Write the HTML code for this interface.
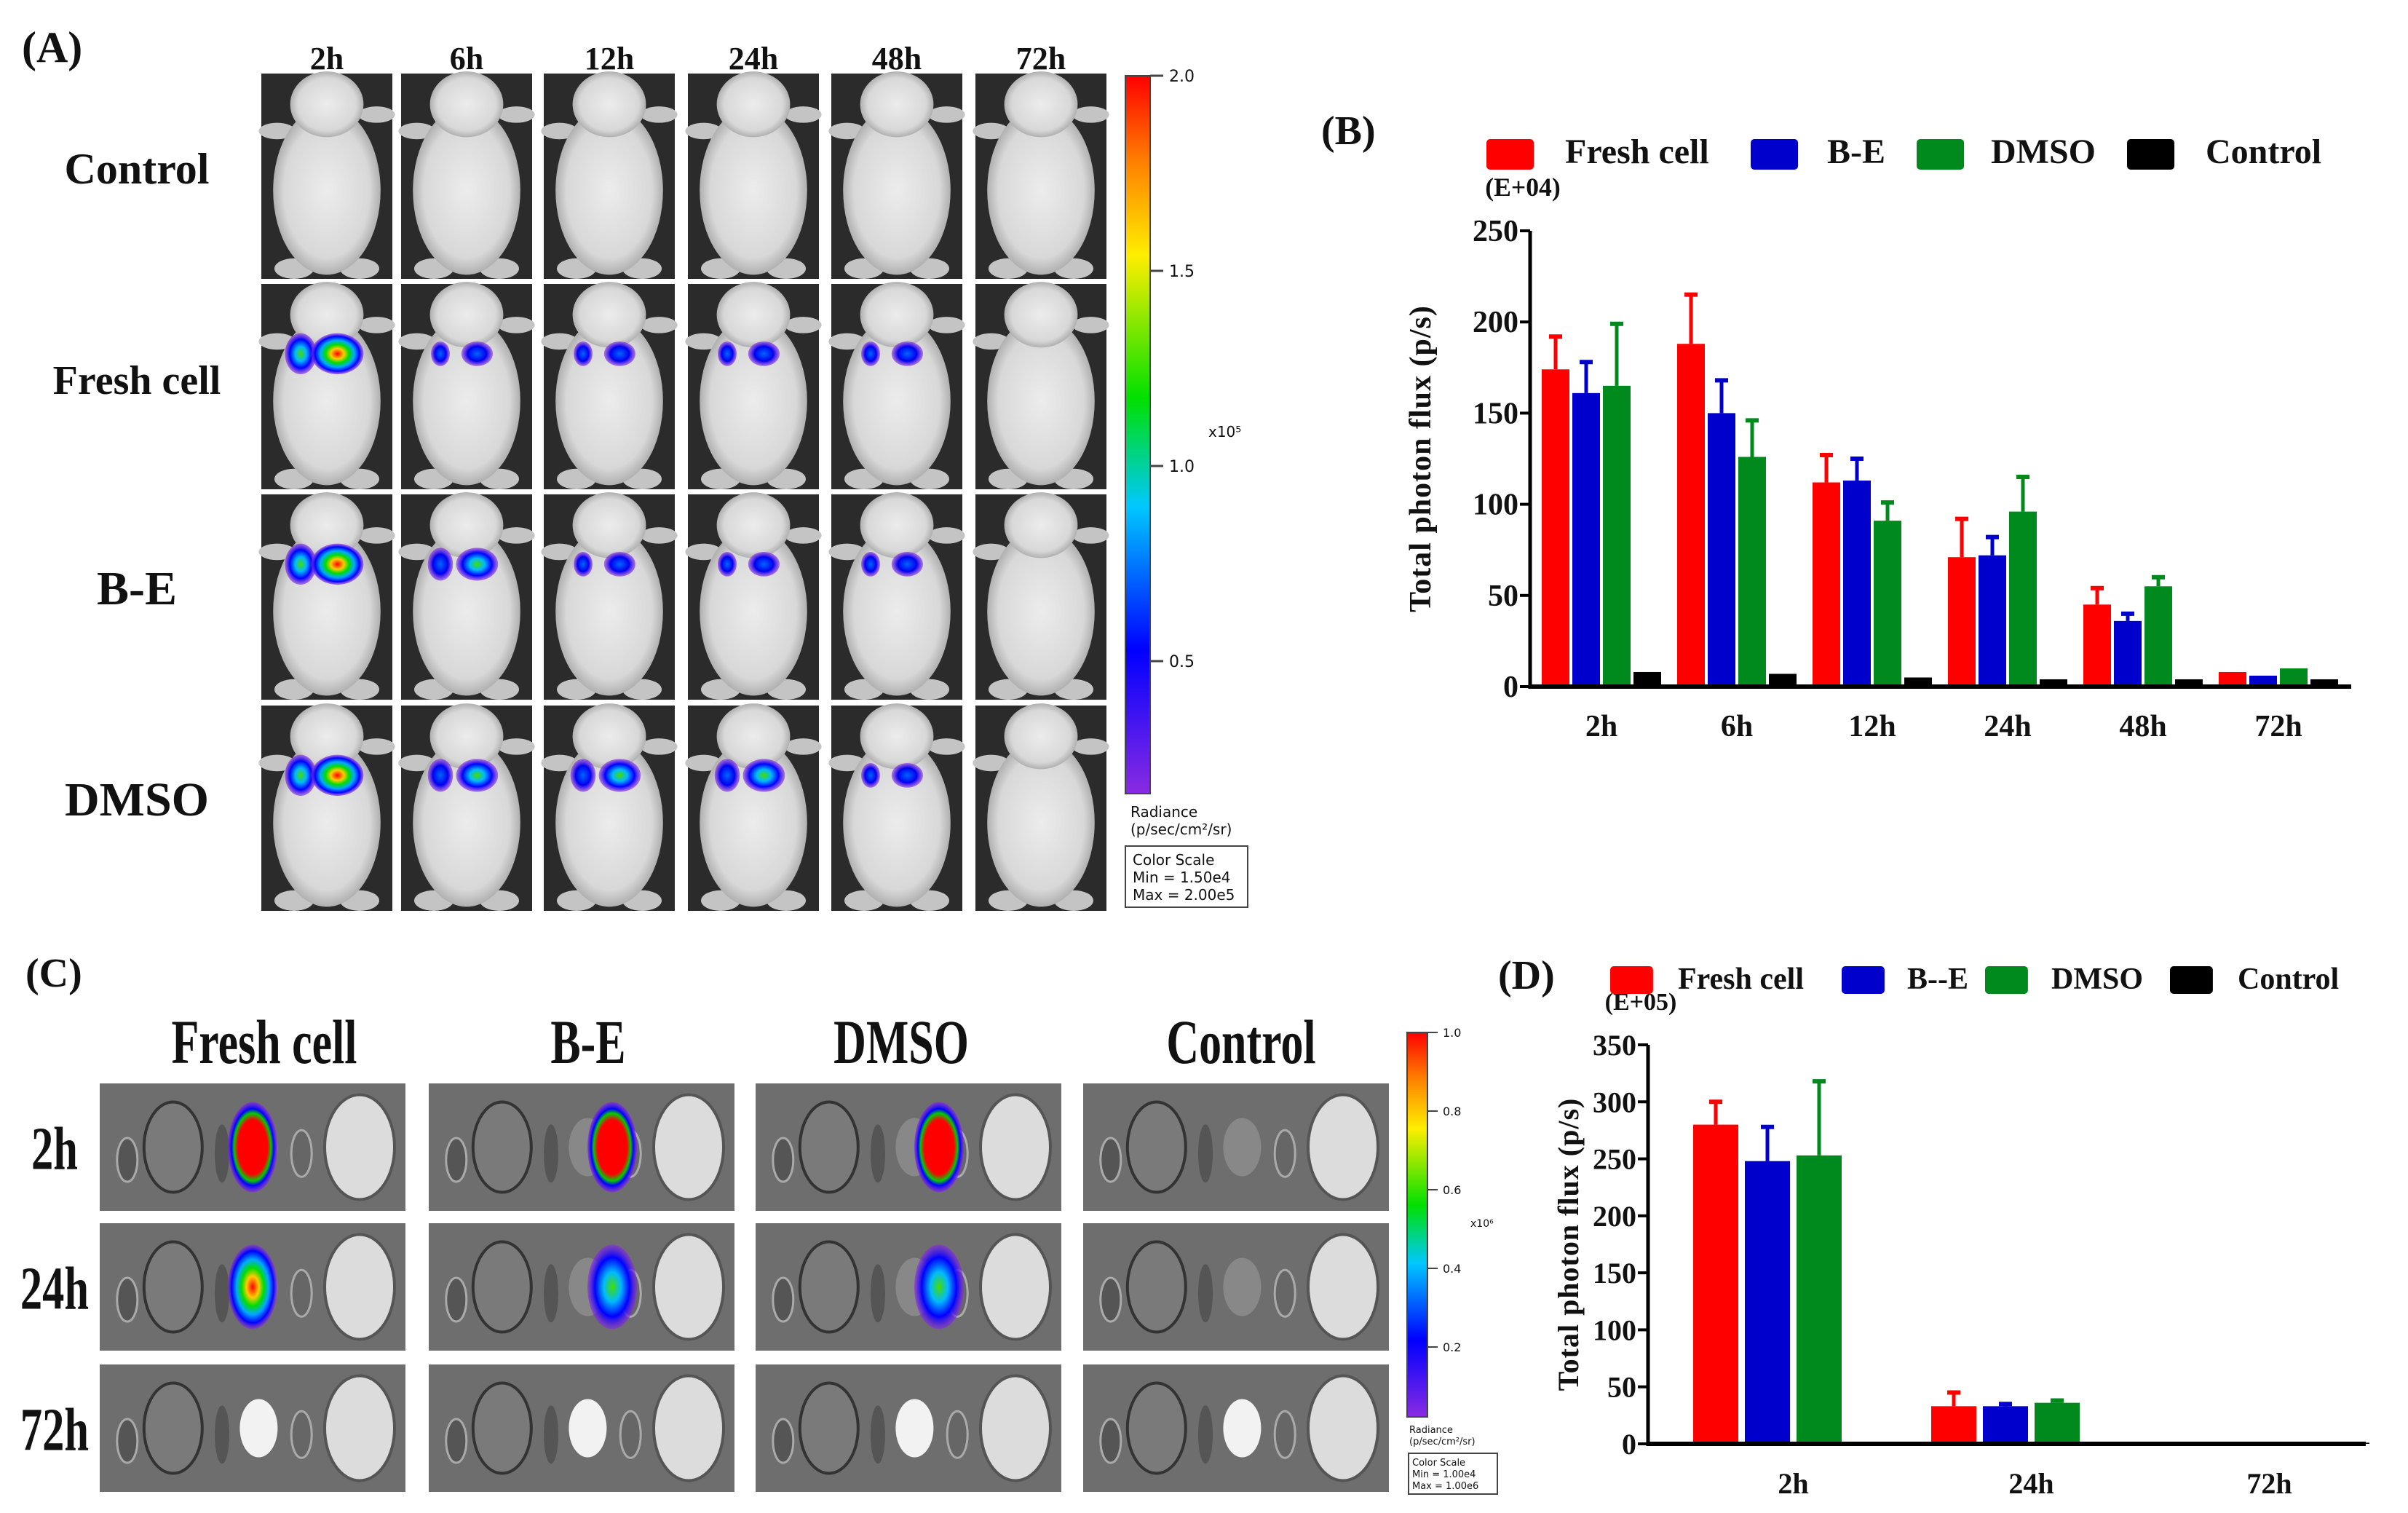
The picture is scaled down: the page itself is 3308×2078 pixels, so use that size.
<!DOCTYPE html>
<html><head><meta charset="utf-8"><style>
html,body{margin:0;padding:0;background:#fff}
svg{display:block}
text{font-family:"Liberation Serif",serif;font-weight:bold;fill:#111}
</style></head><body>
<svg id="fig" width="3308" height="2078" viewBox="0 0 3308 2078" xmlns="http://www.w3.org/2000/svg">
<defs>
<linearGradient id="cbar" x1="0" y1="1" x2="0" y2="0">
<stop offset="0" stop-color="#8a2be2"/><stop offset="0.2" stop-color="#0000ff"/><stop offset="0.4" stop-color="#00c8ff"/><stop offset="0.55" stop-color="#00e000"/><stop offset="0.75" stop-color="#ffee00"/><stop offset="0.88" stop-color="#ff8000"/><stop offset="1" stop-color="#ff0000"/>
</linearGradient>
<radialGradient id="g3"><stop offset="0" stop-color="#ff0000"/><stop offset="0.25" stop-color="#ffcc00"/><stop offset="0.45" stop-color="#00dd00"/><stop offset="0.65" stop-color="#00aaff"/><stop offset="0.85" stop-color="#0000ff"/><stop offset="1" stop-color="#8a2be2" stop-opacity="0.6"/></radialGradient>
<radialGradient id="g2"><stop offset="0" stop-color="#44dd00"/><stop offset="0.35" stop-color="#00bbff"/><stop offset="0.7" stop-color="#0000ff"/><stop offset="1" stop-color="#8a2be2" stop-opacity="0.6"/></radialGradient>
<radialGradient id="g1"><stop offset="0" stop-color="#0066ff"/><stop offset="0.6" stop-color="#0000ee"/><stop offset="1" stop-color="#8a2be2" stop-opacity="0.6"/></radialGradient>
<radialGradient id="gr"><stop offset="0" stop-color="#ff0000"/><stop offset="0.6" stop-color="#ff0000"/><stop offset="0.75" stop-color="#00cc00"/><stop offset="0.85" stop-color="#0000ff"/><stop offset="1" stop-color="#8a2be2" stop-opacity="0.7"/></radialGradient>
<radialGradient id="body"><stop offset="0" stop-color="#ececec"/><stop offset="0.8" stop-color="#d8d8d8"/><stop offset="1" stop-color="#b0b0b0"/></radialGradient>
</defs>
<g id="panelA"></g>
<g id="panelB"></g>
<g id="panelC"></g>
<g id="panelD"></g>
</svg>
<script>
// ---- Panel B data ----
const bCategories = ["2h","6h","12h","24h","48h","72h"];
const bFresh = [174,188,112,71,45,8];
const bFreshErr = [192,215,127,92,54,8];
const bBE = [161,150,113,72,36,6];
const bBEErr = [178,168,125,82,40,6];
const bDMSO = [165,126,91,96,55,10];
const bDMSOErr = [199,146,101,115,60,10];
const bControl = [8,7,5,4,4,4];
const bTicks = [0,50,100,150,200,250];
// ---- Panel D data ----
const dCategories = ["2h","24h","72h"];
const dFresh = [280,33,0];
const dFreshErr = [300,45,0];
const dBE = [248,33,0];
const dBEErr = [278,35,0];
const dDMSO = [253,36,0];
const dDMSOErr = [318,38,0];
const dControl = [0,0,1];
const dTicks = [0,50,100,150,200,250,300,350];
const seriesNames = ["Fresh cell","B-E","DMSO","Control"];
const seriesColors = ["#ff0000","#0000cc","#008a1e","#000000"];

const NS="http://www.w3.org/2000/svg";
function mk(parent,tag,attrs,txt){const e=document.createElementNS(NS,tag);for(const k in attrs)e.setAttribute(k,attrs[k]);if(txt!==undefined)e.textContent=txt;parent.appendChild(e);return e;}

// ---- Panel A ----
const A=document.getElementById('panelA');
let t=mk(A,'text',{x:30,y:85,'font-size':60},'(A)');

const colX=[359,551,747,945,1142,1340], rowY=[101,390,679,969], cw=180, ch=282;
const times=["2h","6h","12h","24h","48h","72h"];
const rows=["Control","Fresh cell","B-E","DMSO"];
const rowFont=[60,56,66,66];
times.forEach((s,i)=>{const e=mk(A,'text',{x:colX[i]+cw/2,y:95,'font-size':44,'text-anchor':'middle'},s);
});
rows.forEach((s,i)=>{const e=mk(A,'text',{x:188,y:rowY[i]+ch/2+10,'font-size':rowFont[i],'text-anchor':'middle'},s);
});
const sig=[[0,0,0,0,0,0],[3,1,1,1,1,0],[3,2,1,1,1,0],[3,2,2,2,1,0]];
rows.forEach((r,ri)=>times.forEach((tm,ci)=>{
  const x=colX[ci],y=rowY[ri];
  const g=mk(A,'g',{});
  
  
  mk(g,'rect',{x:x,y:y,width:cw,height:ch,fill:'#2b2b2b'});
  mk(g,'ellipse',{cx:x+cw*0.12,cy:y+ch*0.28,rx:cw*0.14,ry:ch*0.04,fill:'#c4c4c4'});
  mk(g,'ellipse',{cx:x+cw*0.88,cy:y+ch*0.2,rx:cw*0.14,ry:ch*0.04,fill:'#c4c4c4'});
  mk(g,'ellipse',{cx:x+cw*0.25,cy:y+ch*0.95,rx:cw*0.15,ry:ch*0.05,fill:'#c4c4c4'});
  mk(g,'ellipse',{cx:x+cw*0.75,cy:y+ch*0.95,rx:cw*0.15,ry:ch*0.05,fill:'#c4c4c4'});
  mk(g,'ellipse',{cx:x+cw*0.5,cy:y+ch*0.57,rx:cw*0.41,ry:ch*0.41,fill:'url(#body)'});
  mk(g,'ellipse',{cx:x+cw*0.5,cy:y+ch*0.15,rx:cw*0.28,ry:ch*0.16,fill:'url(#body)'});
  const lv=sig[ri][ci];
  if(lv>0){
    const gid=lv==3?'url(#g3)':lv==2?'url(#g2)':'url(#g1)';
    const s=lv==3?1:lv==2?0.8:0.6;
    mk(g,'ellipse',{cx:x+cw*0.3,cy:y+ch*0.34,rx:cw*0.12*s,ry:ch*0.1*s,fill:lv==3?'url(#g2)':'url(#g1)'});
    mk(g,'ellipse',{cx:x+cw*0.58,cy:y+ch*0.34,rx:cw*0.2*s,ry:ch*0.1*s,fill:gid});
  }
}));
mk(A,'rect',{x:1546,y:104,width:34,height:986,fill:'url(#cbar)',stroke:'#444','stroke-width':2});
["2.0","1.5","1.0","0.5"].forEach((s,i)=>{const yy=104+i*268;mk(A,'line',{x1:1580,y1:yy,x2:1598,y2:yy,stroke:'#444','stroke-width':3});
const e=mk(A,'text',{x:1606,y:yy+8,'font-size':22,style:'font-weight:normal;font-family:"DejaVu Sans",sans-serif',fill:'#333'},s);});
mk(A,'text',{x:1660,y:600,'font-size':20,style:'font-weight:normal;font-family:"DejaVu Sans",sans-serif'},'x10⁵');
mk(A,'text',{x:1553,y:1122,'font-size':20,style:'font-weight:normal;font-family:"DejaVu Sans",sans-serif'},'Radiance');
mk(A,'text',{x:1553,y:1146,'font-size':20,style:'font-weight:normal;font-family:"DejaVu Sans",sans-serif'},'(p/sec/cm²/sr)');
mk(A,'rect',{x:1546,y:1162,width:168,height:84,fill:'none',stroke:'#444','stroke-width':2});
["Color Scale","Min = 1.50e4","Max = 2.00e5"].forEach((s,i)=>mk(A,'text',{x:1556,y:1188+i*24,'font-size':20,style:'font-weight:normal;font-family:"DejaVu Sans",sans-serif'},s));

// ---- bar chart helper ----
function barChart(P,cfg){
  const yS=v=>cfg.y0-(v/cfg.ymax)*(cfg.y0-cfg.yTop);
  const series=[cfg.fresh,cfg.be,cfg.dmso,cfg.ctrl], errs=[cfg.freshE,cfg.beE,cfg.dmsoE,null];
  cfg.cats.forEach((c,ci)=>{
    series.forEach((arr,si)=>{
      const bx=cfg.x0+ci*cfg.gap+si*cfg.pitch;
      const v=arr[ci];
      if(errs[si]&&errs[si][ci]>v){
        const ex=bx+cfg.bw/2;
        const l=mk(P,'line',{x1:ex,y1:yS(v),x2:ex,y2:yS(errs[si][ci]),stroke:seriesColors[si],'stroke-width':5});
        
        mk(P,'line',{x1:ex-9,y1:yS(errs[si][ci]),x2:ex+9,y2:yS(errs[si][ci]),stroke:seriesColors[si],'stroke-width':6});
      }
      const h=cfg.y0-yS(v);
      if(h>0){const r=mk(P,'rect',{x:bx,y:yS(v),width:cfg.bw,height:h,fill:seriesColors[si]});
      
      }
    });
    const lx=cfg.x0+ci*cfg.gap+1.5*cfg.pitch+cfg.bw/2;
    const e=mk(P,'text',{x:lx,y:cfg.y0+68,'font-size':cfg.fs,'text-anchor':'middle'},c);
    
  });
  const ax=mk(P,'line',{x1:cfg.ax,y1:cfg.yTop,x2:cfg.ax,y2:cfg.y0+3,stroke:'#000','stroke-width':5});
  
  const xa=mk(P,'line',{x1:cfg.ax,y1:cfg.y0,x2:cfg.xEnd,y2:cfg.y0,stroke:'#000','stroke-width':6});
  
  cfg.ticks.forEach(v=>{mk(P,'line',{x1:cfg.ax-14,y1:yS(v),x2:cfg.ax,y2:yS(v),stroke:'#000','stroke-width':4});
    const e=mk(P,'text',{x:cfg.ax-16,y:yS(v)+14,'font-size':cfg.fs,'text-anchor':'end'},v);
    });
  const yt=mk(P,'text',{x:0,y:0,'font-size':cfg.fs,'text-anchor':'middle',transform:`translate(${cfg.ytx},${(cfg.y0+cfg.yTop)/2}) rotate(-90)`,style:'font-family:"Liberation Serif",serif;letter-spacing:1px'},'Total  photon flux (p/s)');
  
  const ex=mk(P,'text',{x:cfg.ax-10,y:cfg.yTop-48,'font-size':cfg.fs*0.85,'text-anchor':'middle'},cfg.exp);
  
  cfg.leg.forEach((lg,i)=>{
    const s=mk(P,'rect',{x:lg[0],y:cfg.legY-cfg.sw/2+4,width:cfg.sw*1.55,height:cfg.sw,rx:5,fill:seriesColors[i]});
    
    const e=mk(P,'text',{x:lg[1],y:cfg.legY+16,'font-size':cfg.lfs},lg[2]);
    
  });
}
const B=document.getElementById('panelB');
mk(B,'text',{x:1815,y:198,'font-size':56},'(B)');
barChart(B,{cats:bCategories,fresh:bFresh,be:bBE,dmso:bDMSO,ctrl:bControl,freshE:bFreshErr,beE:bBEErr,dmsoE:bDMSOErr,
 ticks:bTicks,ymax:250,y0:943,yTop:317,ax:2102,xEnd:3230,x0:2118,gap:186,pitch:42,bw:38,fs:42,ytx:1965,exp:'(E+04)',
 legY:208,sw:42,lfs:48,leg:[[2042,2150,'Fresh cell'],[2405,2510,'B-E'],[2633,2735,'DMSO'],[2922,3030,'Control']]});
const D=document.getElementById('panelD');
mk(D,'text',{x:2058,y:1358,'font-size':56},'(D)');
barChart(D,{cats:dCategories,fresh:dFresh,be:dBE,dmso:dDMSO,ctrl:dControl,freshE:dFreshErr,beE:dBEErr,dmsoE:dDMSOErr,
 ticks:dTicks,ymax:350,y0:1983,yTop:1435,ax:2264,xEnd:3250,x0:2326,gap:327,pitch:71,bw:62,fs:40,ytx:2168,exp:'(E+05)',
 legY:1342,sw:38,lfs:42,leg:[[2212,2305,'Fresh cell'],[2530,2620,'B--E'],[2727,2818,'DMSO'],[2981,3074,'Control']]});

// ---- Panel C ----
const C=document.getElementById('panelC');
mk(C,'text',{x:35,y:1355,'font-size':56},'(C)');
const cX=[137,589,1038,1488], cY=[1488,1680,1874], cw2=420, ch2=175;
const groups=["Fresh cell","B-E","DMSO","Control"], ctimes=["2h","24h","72h"];
const colCx=[363,808,1238,1705];
groups.forEach((s,i)=>{const e=mk(C,'text',{x:colCx[i],y:1460,'font-size':86,'text-anchor':'middle',transform:`translate(${colCx[i]*0.28},0) scale(0.72,1)`},s);
 });
ctimes.forEach((s,i)=>{const e=mk(C,'text',{x:75/0.72,y:cY[i]+ch2/2+30,'font-size':84,'text-anchor':'middle',transform:'scale(0.72,1)'},s);
 });
const csig=[[3,3,3,0],[2.5,2,2,0],[0,0,0,0]];
const csx=[0.5,0.6,0.6,0.5];
ctimes.forEach((tm,ri)=>groups.forEach((gname,ci)=>{
  const x=cX[ci],y=cY[ri];
  const g=mk(C,'g',{});
  
  
  mk(g,'rect',{x:x,y:y,width:cw2,height:ch2,fill:'#6e6e6e'});
  mk(g,'ellipse',{cx:x+cw2*0.09,cy:y+ch2*0.6,rx:14,ry:30,fill:'#555',stroke:'#aaa','stroke-width':3});
  mk(g,'ellipse',{cx:x+cw2*0.24,cy:y+ch2*0.5,rx:40,ry:62,fill:'#7a7a7a',stroke:'#333','stroke-width':4});
  mk(g,'ellipse',{cx:x+cw2*0.4,cy:y+ch2*0.55,rx:10,ry:40,fill:'#555'});
  mk(g,'ellipse',{cx:x+cw2*0.52,cy:y+ch2*0.5,rx:26,ry:40,fill:ri==2?'#f2f2f2':'#888'});
  mk(g,'ellipse',{cx:x+cw2*0.66,cy:y+ch2*0.55,rx:14,ry:32,fill:'#666',stroke:'#aaa','stroke-width':3});
  mk(g,'ellipse',{cx:x+cw2*0.85,cy:y+ch2*0.5,rx:48,ry:72,fill:'#dcdcdc',stroke:'#555','stroke-width':4});
  const lv=csig[ri][ci];
  if(lv>0){
    const gid=lv==3?'url(#gr)':lv==2.5?'url(#g3)':'url(#g2)';
    mk(g,'ellipse',{cx:x+cw2*csx[ci],cy:y+ch2*0.5,rx:34,ry:lv==3?62:58,fill:gid});
  }
}));
mk(C,'rect',{x:1933,y:1418,width:28,height:528,fill:'url(#cbar)',stroke:'#444','stroke-width':2});
["1.0","0.8","0.6","0.4","0.2"].forEach((s,i)=>{const yy=1418+i*108;mk(C,'line',{x1:1961,y1:yy,x2:1975,y2:yy,stroke:'#444','stroke-width':2});
 mk(C,'text',{x:1982,y:yy+6,'font-size':16,style:'font-weight:normal;font-family:"DejaVu Sans",sans-serif',fill:'#444'},s);});
mk(C,'text',{x:2020,y:1685,'font-size':14,style:'font-weight:normal;font-family:"DejaVu Sans",sans-serif'},'x10⁶');
mk(C,'text',{x:1936,y:1968,'font-size':13,style:'font-weight:normal;font-family:"DejaVu Sans",sans-serif'},'Radiance');
mk(C,'text',{x:1936,y:1984,'font-size':13,style:'font-weight:normal;font-family:"DejaVu Sans",sans-serif'},'(p/sec/cm²/sr)');
mk(C,'rect',{x:1935,y:1996,width:122,height:56,fill:'none',stroke:'#444','stroke-width':2});
["Color Scale","Min = 1.00e4","Max = 1.00e6"].forEach((s,i)=>mk(C,'text',{x:1940,y:2013+i*16,'font-size':13,style:'font-weight:normal;font-family:"DejaVu Sans",sans-serif'},s));
</script>
</body></html>
